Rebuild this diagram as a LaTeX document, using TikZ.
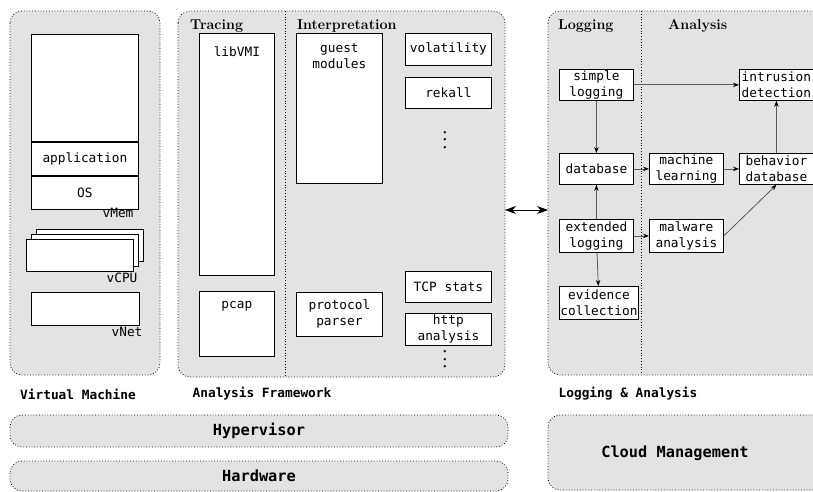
\documentclass[tikz,border=0pt]{standalone}
\usepackage{fontspec}
\setmonofont{DejaVu Sans Mono}
\usetikzlibrary{arrows.meta,positioning}
\newcommand{\vdotstack}{\vbox{\baselineskip=7.5pt\lineskiplimit=0pt\hbox{\textbullet}\hbox{\textbullet}\hbox{\textbullet}}}
\begin{document}
\begin{tikzpicture}[x=1pt,y=-1pt,
    panel/.style={draw,dotted,line width=0.8pt,fill=black!11,rounded corners=12pt},
    divider/.style={dotted,line width=0.8pt},
    box/.style={draw,fill=white,line width=0.8pt,inner sep=1pt,align=center,anchor=north west,font=\ttfamily\fontsize{12.8}{16}\selectfont},
    lbl/.style={inner sep=0pt,align=center,font=\ttfamily\fontsize{12.8}{16}\selectfont},
    title/.style={anchor=base west,inner sep=0pt,font=\fontsize{14.3}{16}\selectfont\bfseries},
    caption/.style={inner sep=0pt,font=\ttfamily\bfseries\fontsize{12.8}{16}\selectfont},
    bigcaption/.style={inner sep=0pt,font=\ttfamily\bfseries\fontsize{15.3}{18}\selectfont},
    dots/.style={inner sep=0pt,font=\rmfamily\fontsize{8}{8}\selectfont},
    flow/.style={draw=black!65,line width=0.8pt,-{Stealth[length=6pt,width=4.5pt,black]}}]
    \useasboundingbox (0,0) rectangle (813,492);
    \clip (0,0) rectangle (813,492);
    % panels
    \draw [panel](10,11) rectangle (160,375);
    \draw [panel](178,11) rectangle (505,377);
    \draw [panel](548,11) rectangle (850,375);
    \draw [divider](285,11)--(285,377) (641,11)--(641,375);
    \draw [panel](10,415) rectangle (508,447) (10,461) rectangle (508,491);
    \draw [panel](548,415) rectangle (850,490);
    % virtual machine
    \node [box,minimum width=107pt,minimum height=107pt] (vmem) at (31,34) {};
    \node [box,minimum width=107pt,minimum height=33pt,anchor=north] (app) at (vmem.south) {application};
    \node [box,minimum width=107pt,minimum height=33pt,anchor=north] (os) at (app.south) {OS};
    \node [lbl] (vmemlbl) at (118,213) {vMem};
    \foreach \d in {10,5,0}
        \node [box,minimum width=107pt,minimum height=32pt] (vcpu\d) at (26+\d,239-\d) {};
    \node [lbl] (vcpulbl) at (122,278) {vCPU};
    \node [box,minimum width=108pt,minimum height=33pt] (vnet) at (31,292) {};
    \node [lbl] (vnetlbl) at (127,332) {vNet};
    % analysis framework
    \node [title] (tracing) at (190,30) {Tracing};
    \node [title] (interp) at (297,30) {Interpretation};
    \node [box,minimum width=75pt,minimum height=242pt] (libvmi) at (199,33) {};
    \node [lbl] (libvmitxt) at ([yshift=-19pt]libvmi.north) {libVMI};
    \node [box,minimum width=75pt,minimum height=65pt] (pcap) at (199,291) {};
    \node [lbl] (pcaptxt) at ([yshift=-15pt]pcap.north) {pcap};
    \node [box,minimum width=86pt,minimum height=150pt] (guest) at (296,33) {};
    \node [lbl] (guesttxt) at ([yshift=-23pt]guest.north) {guest\\modules};
    \node [box,minimum width=86pt,minimum height=32pt] (volatility) at (405,33) {volatility};
    \node [box,minimum width=86pt,minimum height=31pt] (rekall) at (405,77) {rekall};
    \node [dots] (moduledots) at (445,140.5) {\vdotstack};
    \node [box,minimum width=86pt,minimum height=44pt] (parser) at (296,292) {protocol\\parser};
    \node [box,minimum width=86pt,minimum height=31pt] (tcp) at (405,271) {TCP stats};
    \node [box,minimum width=86pt,minimum height=32pt] (http) at (405,313) {http\\analysis};
    \node [dots] (parserdots) at (445,360) {\vdotstack};
    % logging and analysis
    \node [title] (logging) at (558,30) {Logging};
    \node [title] (analysis) at (668,30) {Analysis};
    \node [box,minimum width=74pt,minimum height=31pt] (simple) at (559,69) {simple\\logging};
    \node [box,minimum width=74pt,minimum height=31pt] (database) at (559,153) {database};
    \node [box,minimum width=74pt,minimum height=33pt] (extended) at (559,219) {extended\\logging};
    \node [box,minimum width=74pt,minimum height=33pt] (evidence) at (559,286) {evidence\\collection};
    \node [box,minimum width=74pt,minimum height=31pt] (machine) at (649,153) {machine\\learning};
    \node [box,minimum width=74pt,minimum height=33pt] (malware) at (649,219) {malware\\analysis};
    \node [box,minimum width=74pt,minimum height=31pt] (intrusion) at (739,69) {intrusion\\detection};
    \node [box,minimum width=74pt,minimum height=31pt] (behavior) at (739,153) {behavior\\database};
    \draw [flow](simple)--(intrusion);
    \draw [flow](simple)--(database);
    \draw [flow](extended)--(database);
    \draw [flow](extended)--(evidence);
    \draw [flow](extended)--(malware);
    \draw [flow](database)--(machine);
    \draw [flow](machine)--(behavior);
    \draw [flow](malware.east)--(behavior.south);
    \draw [flow](behavior)--(intrusion);
    % link between the panels
    \coordinate (fwright) at (505,210);
    \coordinate (laleft) at (548,210);
    \draw [line width=0.8pt,{Stealth[length=11pt,width=8pt]}-{Stealth[length=11pt,width=8pt]}](fwright)--(laleft);
    % captions
    \node [caption] (vmcap) at (78,394) {Virtual Machine};
    \node [caption] (fwcap) at (262,394) {Analysis Framework};
    \node [caption] (lacap) at (628,394) {Logging \& Analysis};
    \node [bigcaption] (hypervisor) at (259,431) {Hypervisor};
    \node [bigcaption] (hardware) at (259,476) {Hardware};
    \node [bigcaption] (cloud) at (675,453) {Cloud Management};
\end{tikzpicture}
\end{document}
